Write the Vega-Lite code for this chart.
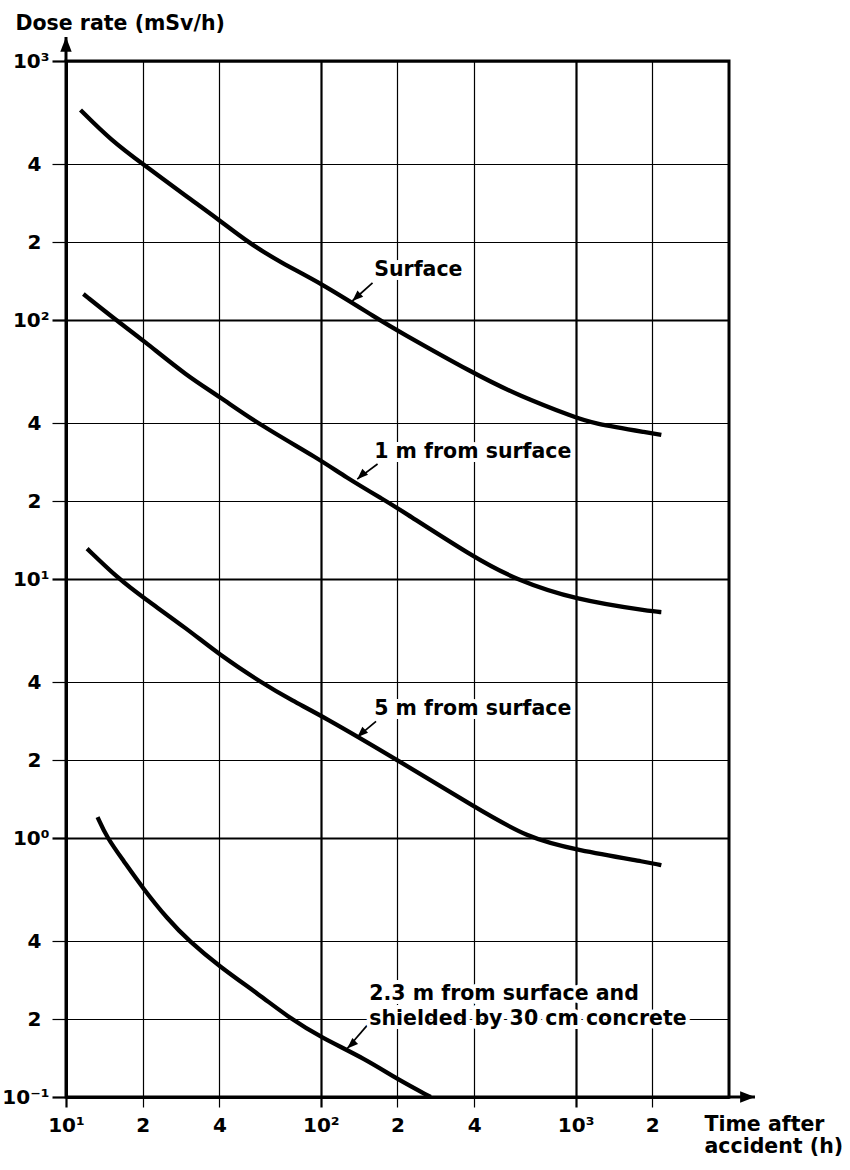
{
  "$schema": "https://vega.github.io/schema/vega-lite/v6.json",
  "width": 663,
  "height": 1036,
  "autosize": {"type": "none"},
  "padding": {"left": 66, "top": 61, "right": 121, "bottom": 73},
  "background": "white",
  "config": {"view": {"stroke": "black", "strokeWidth": 3}, "font": "DejaVu Sans"},
  "datasets": {
    "curves": [
      {"series": "Surface", "t": 11.4, "d": 647},
      {"series": "Surface", "t": 15, "d": 495},
      {"series": "Surface", "t": 20, "d": 400},
      {"series": "Surface", "t": 30, "d": 298},
      {"series": "Surface", "t": 40, "d": 243},
      {"series": "Surface", "t": 51.6, "d": 200},
      {"series": "Surface", "t": 70, "d": 166},
      {"series": "Surface", "t": 100, "d": 139},
      {"series": "Surface", "t": 170, "d": 100},
      {"series": "Surface", "t": 200, "d": 91},
      {"series": "Surface", "t": 400, "d": 62},
      {"series": "Surface", "t": 600, "d": 51},
      {"series": "Surface", "t": 1000, "d": 42},
      {"series": "Surface", "t": 1150, "d": 40},
      {"series": "Surface", "t": 2000, "d": 36.5},
      {"series": "Surface", "t": 2170, "d": 36},
      {"series": "1 m", "t": 11.7, "d": 126},
      {"series": "1 m", "t": 15.7, "d": 100},
      {"series": "1 m", "t": 20, "d": 83.8},
      {"series": "1 m", "t": 30, "d": 60.5},
      {"series": "1 m", "t": 40, "d": 50.7},
      {"series": "1 m", "t": 56, "d": 40},
      {"series": "1 m", "t": 100, "d": 28.8},
      {"series": "1 m", "t": 123, "d": 25},
      {"series": "1 m", "t": 180, "d": 20},
      {"series": "1 m", "t": 200, "d": 18.8},
      {"series": "1 m", "t": 400, "d": 12.1},
      {"series": "1 m", "t": 575, "d": 10},
      {"series": "1 m", "t": 1000, "d": 8.3},
      {"series": "1 m", "t": 2000, "d": 7.5},
      {"series": "1 m", "t": 2170, "d": 7.45},
      {"series": "5 m", "t": 12.1, "d": 13.1},
      {"series": "5 m", "t": 16.1, "d": 10},
      {"series": "5 m", "t": 20, "d": 8.5},
      {"series": "5 m", "t": 30, "d": 6.4},
      {"series": "5 m", "t": 40, "d": 5.1},
      {"series": "5 m", "t": 58, "d": 4},
      {"series": "5 m", "t": 78, "d": 3.37},
      {"series": "5 m", "t": 100, "d": 2.98},
      {"series": "5 m", "t": 200, "d": 2.0},
      {"series": "5 m", "t": 400, "d": 1.32},
      {"series": "5 m", "t": 650, "d": 1.0},
      {"series": "5 m", "t": 1000, "d": 0.9},
      {"series": "5 m", "t": 2000, "d": 0.8},
      {"series": "5 m", "t": 2170, "d": 0.785},
      {"series": "2.3 m shielded", "t": 13.3, "d": 1.205},
      {"series": "2.3 m shielded", "t": 14.5, "d": 1.0},
      {"series": "2.3 m shielded", "t": 16.8, "d": 0.818},
      {"series": "2.3 m shielded", "t": 20, "d": 0.641},
      {"series": "2.3 m shielded", "t": 25.1, "d": 0.485},
      {"series": "2.3 m shielded", "t": 30.4, "d": 0.4},
      {"series": "2.3 m shielded", "t": 40, "d": 0.319},
      {"series": "2.3 m shielded", "t": 57.4, "d": 0.248},
      {"series": "2.3 m shielded", "t": 76.4, "d": 0.2},
      {"series": "2.3 m shielded", "t": 100, "d": 0.17},
      {"series": "2.3 m shielded", "t": 150, "d": 0.14},
      {"series": "2.3 m shielded", "t": 200, "d": 0.117},
      {"series": "2.3 m shielded", "t": 270, "d": 0.1}
    ],
    "labels": [
      {"label": "Surface", "t": 162, "d": 156},
      {"label": "1 m from surface", "t": 162, "d": 31},
      {"label": "5 m from surface", "t": 162, "d": 3.14},
      {"label": "2.3 m from surface and", "t": 155, "d": 0.249},
      {"label": "shielded by 30 cm concrete", "t": 155, "d": 0.2}
    ],
    "arrows": [
      {"t": 159.6, "d": 139, "t2": 133, "d2": 118.4},
      {"t": 167, "d": 27.8, "t2": 139, "d2": 24.3},
      {"t": 164.7, "d": 2.82, "t2": 139, "d2": 2.45},
      {"t": 152, "d": 0.189, "t2": 127, "d2": 0.154}
    ],
    "heads": [
      {"t": 133, "d": 118.4},
      {"t": 139, "d": 24.3},
      {"t": 139, "d": 2.45},
      {"t": 127, "d": 0.154}
    ],
    "axisLines": [
      {"t": 10, "d": 1000, "t2": 10, "d2": 1238},
      {"t": 4000, "d": 0.1, "t2": 5058, "d2": 0.1}
    ],
    "upHead": [{"t": 10, "d": 1238}],
    "rightHead": [{"t": 5058, "d": 0.1}]
  },
  "encoding": {
    "x": {
      "field": "t",
      "type": "quantitative",
      "scale": {"type": "log", "domain": [10, 4000], "nice": false},
      "axis": {
        "values": [10, 20, 40, 100, 200, 400, 1000, 2000],
        "labelExpr": "datum.value == 10 ? '10¹' : datum.value == 100 ? '10²' : datum.value == 1000 ? '10³' : format(datum.value / pow(10, floor(log(datum.value) / LN10 + 1e-9)), '.0f')",
        "grid": true,
        "gridColor": "black",
        "gridOpacity": 1,
        "gridWidth": {"condition": {"test": "datum.value == 10 || datum.value == 100 || datum.value == 1000", "value": 2.2}, "value": 1.2},
        "domainColor": "black",
        "domainWidth": 3,
        "tickColor": "black",
        "tickSize": 10,
        "tickWidth": {"condition": {"test": "datum.value == 10 || datum.value == 100 || datum.value == 1000", "value": 2.2}, "value": 1.2},
        "labelFont": "DejaVu Sans",
        "labelFontSize": 20,
        "labelFontWeight": "bold",
        "labelColor": "black",
        "labelPadding": 8,
        "labelFlush": false,
        "labelOverlap": false,
        "labelBound": false,
        "title": ["Time after", "accident (h)"],
        "titleFont": "DejaVu Sans",
        "titleFontSize": 20.5,
        "titleFontWeight": "bold",
        "titleColor": "black",
        "titleAlign": "left",
        "titleBaseline": "alphabetic",
        "titleAngle": 0,
        "titleX": 638,
        "titleY": 33,
        "titleLineHeight": 22
      }
    },
    "y": {
      "field": "d",
      "type": "quantitative",
      "scale": {"type": "log", "domain": [0.1, 1000], "nice": false},
      "axis": {
        "values": [0.1, 0.2, 0.4, 1, 2, 4, 10, 20, 40, 100, 200, 400, 1000],
        "labelExpr": "datum.value == 1000 ? '10³' : datum.value == 100 ? '10²' : datum.value == 10 ? '10¹' : datum.value == 1 ? '10⁰' : datum.value == 0.1 ? '10⁻¹' : format(datum.value / pow(10, floor(log(datum.value) / LN10 + 1e-9)), '.0f')",
        "grid": true,
        "gridColor": "black",
        "gridOpacity": 1,
        "gridWidth": {"condition": {"test": "datum.value == 1000 || datum.value == 100 || datum.value == 10 || datum.value == 1 || datum.value == 0.1", "value": 2.2}, "value": 1.2},
        "domainColor": "black",
        "domainWidth": 3,
        "tickColor": "black",
        "tickSize": 14,
        "tickWidth": {"condition": {"test": "datum.value == 1000 || datum.value == 100 || datum.value == 10 || datum.value == 1 || datum.value == 0.1", "value": 2.2}, "value": 1.2},
        "labelFont": "DejaVu Sans",
        "labelFontSize": 20,
        "labelFontWeight": "bold",
        "labelColor": "black",
        "labelPadding": {"condition": {"test": "datum.value == 1000 || datum.value == 100 || datum.value == 10 || datum.value == 1 || datum.value == 0.1", "value": 3}, "value": 11},
        "labelOverlap": false,
        "labelBound": false,
        "title": "Dose rate (mSv/h)",
        "titleFont": "DejaVu Sans",
        "titleFontSize": 20.5,
        "titleFontWeight": "bold",
        "titleColor": "black",
        "titleAngle": 0,
        "titleAlign": "left",
        "titleBaseline": "alphabetic",
        "titleX": -51,
        "titleY": -32
      }
    }
  },
  "layer": [
    {
      "data": {"name": "curves"},
      "mark": {"type": "line", "color": "black", "strokeWidth": 4.3, "interpolate": "basis"},
      "encoding": {"detail": {"field": "series", "type": "nominal"}}
    },
    {
      "data": {"name": "arrows"},
      "mark": {"type": "rule", "color": "black", "strokeWidth": 1.7},
      "encoding": {"x2": {"field": "t2"}, "y2": {"field": "d2"}}
    },
    {
      "data": {"name": "heads"},
      "mark": {"type": "point", "shape": "M0,0L-1,2.6L1,2.6Z", "filled": true, "color": "black", "opacity": 1, "size": 70, "angle": 227}
    },
    {
      "data": {"name": "labels"},
      "mark": {"type": "text", "align": "left", "baseline": "middle", "font": "DejaVu Sans", "fontSize": 20.5, "fontWeight": "bold", "fill": "white", "stroke": "white", "strokeWidth": 8, "strokeJoin": "round"},
      "encoding": {"text": {"field": "label", "type": "nominal"}}
    },
    {
      "data": {"name": "labels"},
      "mark": {"type": "text", "align": "left", "baseline": "middle", "font": "DejaVu Sans", "fontSize": 20.5, "fontWeight": "bold", "color": "black"},
      "encoding": {"text": {"field": "label", "type": "nominal"}}
    },
    {
      "data": {"name": "axisLines"},
      "mark": {"type": "rule", "color": "black", "strokeWidth": 3},
      "encoding": {"x2": {"field": "t2"}, "y2": {"field": "d2"}}
    },
    {
      "data": {"name": "upHead"},
      "mark": {"type": "point", "shape": "M0,0L-1,2.6L1,2.6Z", "filled": true, "color": "black", "opacity": 1, "size": 130, "angle": 0}
    },
    {
      "data": {"name": "rightHead"},
      "mark": {"type": "point", "shape": "M0,0L-1,2.6L1,2.6Z", "filled": true, "color": "black", "opacity": 1, "size": 130, "angle": 90}
    }
  ]
}
